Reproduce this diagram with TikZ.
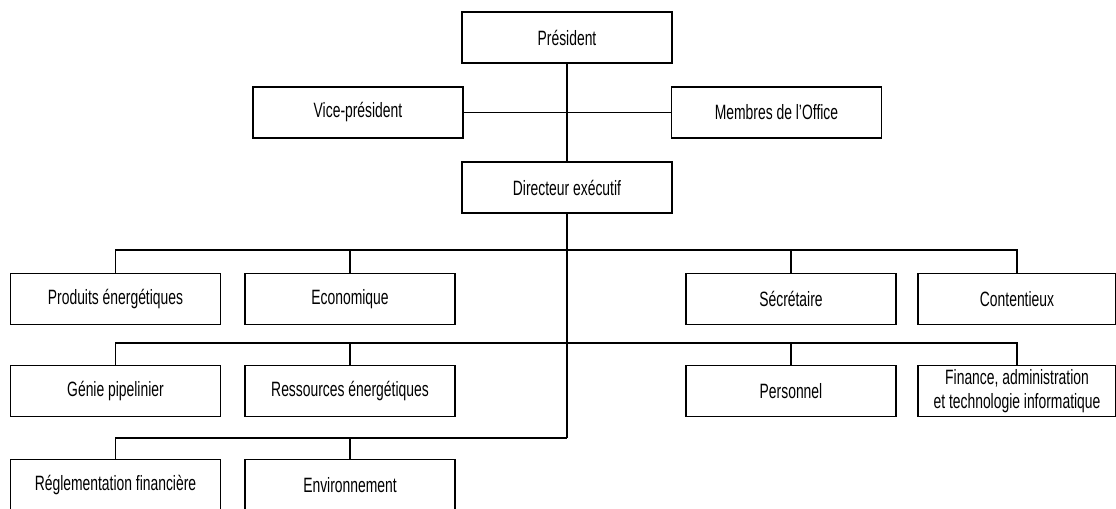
\documentclass[tikz,border=0pt]{standalone}
\usepackage{fontspec}
\setmainfont{Liberation Sans}[FakeStretch=0.67]

\tikzset{
    unit/.style={draw, line width=0.9pt, minimum width=4.2cm, minimum height=1.02cm,
        inner sep=1pt, align=center, font=\fontsize{11.8}{13.5}\selectfont},
    narrowunit/.style={unit, minimum width=3.96cm},
    link/.style={line width=0.9pt}
}

\begin{document}
\begin{tikzpicture}[x=0.02cm, y=-0.02cm]
    \useasboundingbox (0,0) rectangle (1116,508);

    % top of the office
    \node[unit] (pres) at (567,37.5) {Président};
    \node[unit] (vp) at (358,112.5) {Vice-président};
    \node[unit] (mem) at (776.5,112.5) {Membres de l’Office};
    \node[unit] (dir) at (567,187.5) {Directeur exécutif};

    % first row
    \node[unit] (prod) at (115.5,299) {Produits énergétiques};
    \node[unit] (eco) at (350,299) {Economique};
    \node[unit] (sec) at (791,299) {Sécrétaire};
    \node[narrowunit] (cont) at (1017,299) {Contentieux};

    % second row
    \node[unit] (genie) at (115.5,391) {Génie pipelinier};
    \node[unit] (res) at (350,391) {Ressources énergétiques};
    \node[unit] (pers) at (791,391) {Personnel};
    \node[narrowunit] (fin) at (1017,391) {Finance, administration\\et technologie informatique};

    % third row
    \node[unit] (regl) at (115.5,485) {Réglementation financière};
    \node[unit] (env) at (350,485) {Environnement};

    \coordinate (bus1) at (567,250);
    \coordinate (bus2) at (567,343);
    \coordinate (bus3) at (567,438);

    \draw[link] (pres) -- (dir);
    \draw[link] (vp) -- (mem);
    \draw[link] (dir) -- (bus3);

    \draw[link] (prod.north) |- (bus1) -| (cont.north);
    \draw[link] (eco.north) -- (eco.north |- bus1);
    \draw[link] (sec.north) -- (sec.north |- bus1);

    \draw[link] (genie.north) |- (bus2) -| (fin.north);
    \draw[link] (res.north) -- (res.north |- bus2);
    \draw[link] (pers.north) -- (pers.north |- bus2);

    \draw[link] (regl.north) |- (bus3);
    \draw[link] (env.north) -- (env.north |- bus3);
\end{tikzpicture}
\end{document}
